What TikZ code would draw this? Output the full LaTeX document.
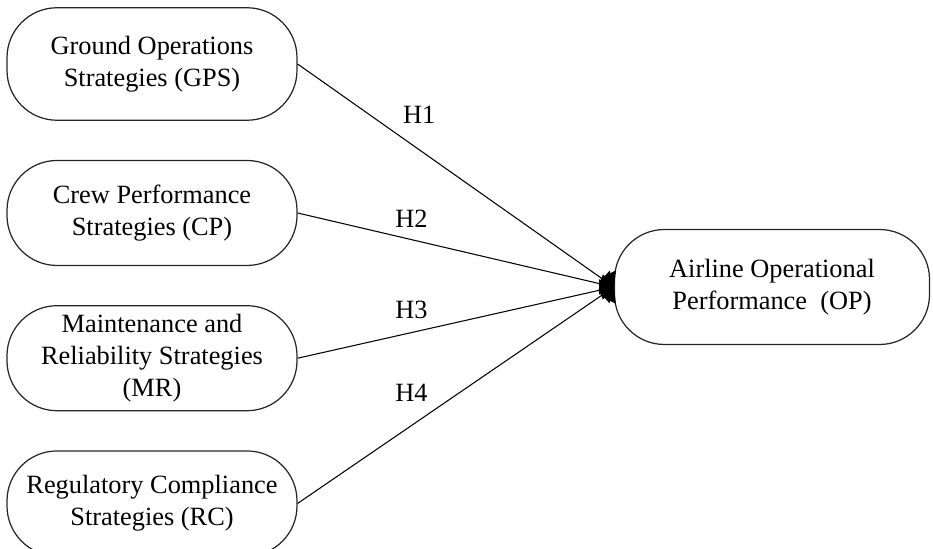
\documentclass[tikz,border=0pt]{standalone}
\usepackage{fontspec}
\setmainfont{Liberation Serif}
\usetikzlibrary{positioning, arrows.meta}
\tikzset{
  factor/.style={rectangle, rounded corners=1cm, minimum width=5.8cm, minimum height=2.1cm, text centered, align=center, draw=black!85, line width=0.7pt, font=\fontsize{15}{18}\selectfont},
  outcome/.style={rectangle, rounded corners=1cm, minimum width=6.3cm, minimum height=2.3cm, text centered, align=center, draw=black!85, line width=0.7pt, font=\fontsize{15}{18}\selectfont},
  arrow/.style={line width=0.6pt,-{Diamond[length=9pt,width=17pt]}},
  hlabel/.style={font=\fontsize{15}{18}\selectfont}
}
\begin{document}
\begin{tikzpicture}[node distance=0.78cm]
        \useasboundingbox (0,0) rectangle (18.66,-10.98);

        % Factors
        \node (gps) [factor, minimum height=2.25cm] at (3.04,-1.28) {Ground Operations\\Strategies (GPS)};
        \node (cp) [factor, below=of gps] {Crew Performance\\Strategies (CP)};
        \node (mr) [factor, below=of cp] {Maintenance and\\Reliability Strategies\\(MR)};
        \node (rc) [factor, below=of mr] {Regulatory Compliance\\Strategies (RC)};

        % Outcome
        \node (op) [outcome] at (15.44,-5.74) {Airline Operational\\Performance~~(OP)};

        % Hypotheses
        \draw [arrow] (gps.east) -- node[hlabel, pos=0.23, anchor=west, xshift=15pt]{H1} (op.west);
        \draw [arrow] (cp.east) -- node[hlabel, pos=0.36, above=3pt]{H2} (op.west);
        \draw [arrow] (mr.east) -- node[hlabel, pos=0.36, above=4pt]{H3} (op.west);
        \draw [arrow] (rc.east) -- node[hlabel, pos=0.36, above=10pt]{H4} (op.west);
\end{tikzpicture}
\end{document}
